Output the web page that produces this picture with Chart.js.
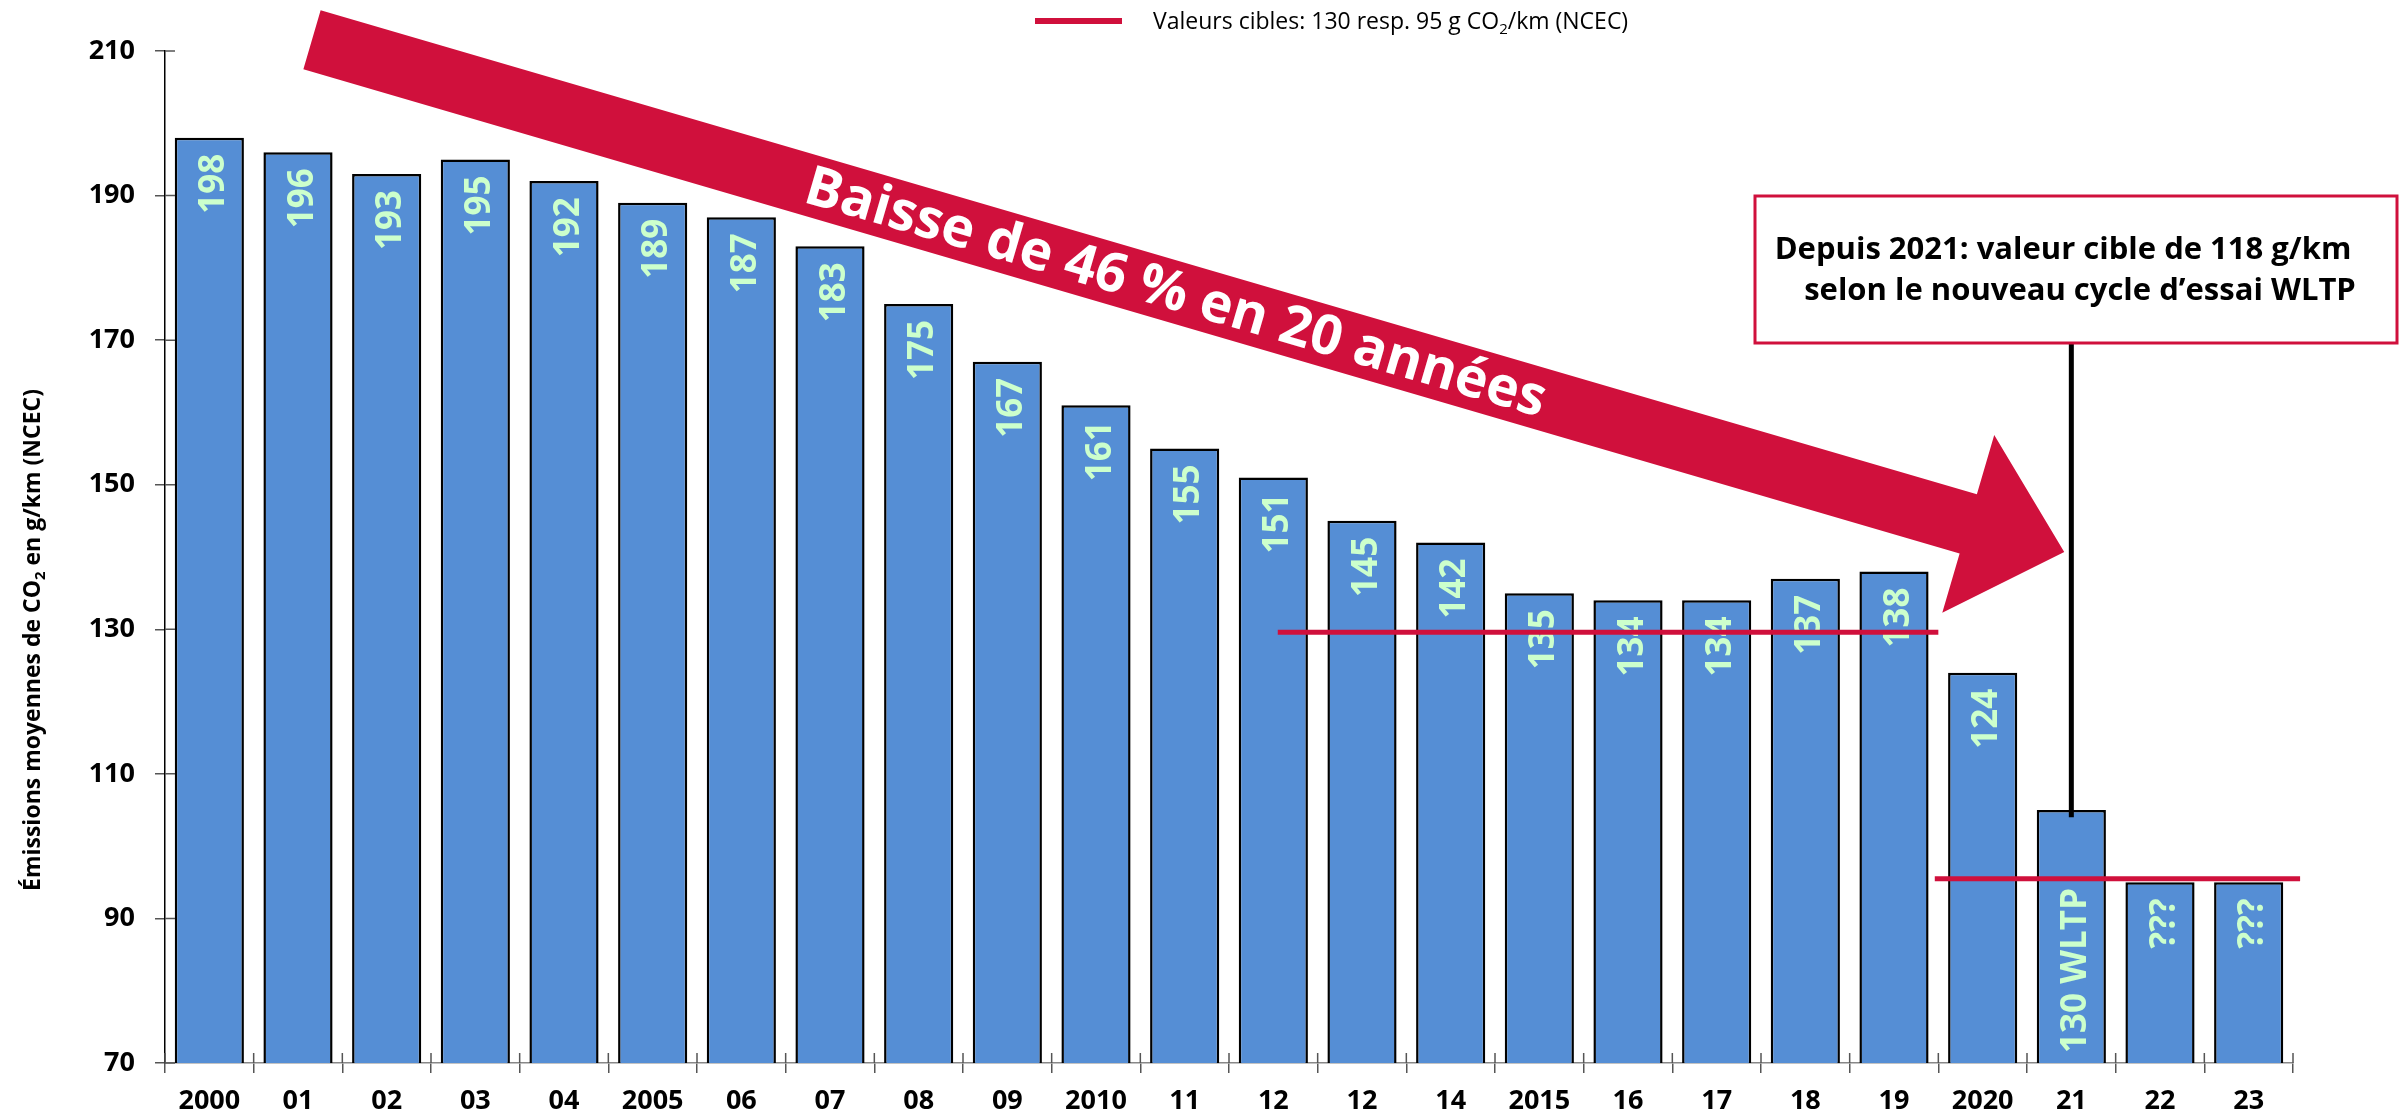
<!DOCTYPE html>
<html>
<head>
<meta charset="utf-8">
<script src="https://cdn.jsdelivr.net/npm/chart.js@4.4.1/dist/chart.umd.min.js"></script>
<style>
  html, body { margin: 0; padding: 0; background: #fff; }
  #wrap { width: 2402px; height: 1119px; }
</style>
</head>
<body>
<div id="wrap"><canvas id="co2Chart" width="2402" height="1119"></canvas></div>
<script>
// donnees
var annees = ['2000', '01', '02', '03', '04', '2005', '06', '07', '08', '09', '2010',
  '11', '12', '12', '14', '2015', '16', '17', '18', '19', '2020', '21', '22', '23'];
var emissions = [198, 196, 193, 195, 192, 189, 187, 183, 175, 167, 161, 155, 151,
  145, 142, 135, 134, 134, 137, 138, 124, 105, 95, 95];
var etiquettes = ['198', '196', '193', '195', '192', '189', '187', '183', '175', '167',
  '161', '155', '151', '145', '142', '135', '134', '134', '137', '138', '124',
  '130 WLTP', '???', '???'];
var cible130 = [{x: 12.05, y: 129.6}, {x: 19.5, y: 129.6}];
var cible95 = [{x: 19.46, y: 95.5}, {x: 23.58, y: 95.5}];
var yMin = 70, yMax = 210, yPas = 20;

var legendeTexte = [['Valeurs cibles: 130 resp. 95 g CO', false], ['2', true], ['/km (NCEC)', false]];
var titreY = [['Émissions moyennes de CO', false], ['2', true], [' en g/km (NCEC)', false]];
var flecheTexte = 'Baisse de 46 % en 20 années';
var encadre = ['Depuis 2021: valeur cible de 118 g/km', 'selon le nouveau cycle d\u2019essai WLTP'];

// flèche : début / fin en (indice, valeur)
var flecheDebut = [1.158, 211.55];
var flecheFin = [20.92, 140.7];
var repereIndex = 21, repereValeur = 104;

var rouge = '#D0103C';
var bleu = '#558ED5';
var vert = '#CCFFCC';

function texteIndice(ctx, parts, x, y, size, weight, align) {
  var wTot = 0, widths = [];
  parts.forEach(function (p) {
    ctx.font = weight + ' ' + (p[1] ? Math.round(size * 0.65) : size) + 'px "Open Sans"';
    var w = ctx.measureText(p[0]).width;
    widths.push(w);
    wTot += w;
  });
  var cx = align === 'center' ? x - wTot / 2 : x;
  ctx.textAlign = 'left';
  ctx.textBaseline = 'alphabetic';
  parts.forEach(function (p, i) {
    ctx.font = weight + ' ' + (p[1] ? Math.round(size * 0.65) : size) + 'px "Open Sans"';
    ctx.fillText(p[0], cx, p[1] ? y + size * 0.2 : y);
    cx += widths[i];
  });
}

var etiquettesPlugin = {
  id: 'etiquettes',
  afterDatasetDraw: function (chart, args) {
    if (args.index !== 0) return;
    var ctx = chart.ctx;
    var bas = chart.scales.y.getPixelForValue(yMin);
    ctx.save();
    ctx.fillStyle = vert;
    ctx.font = '700 35px "Open Sans"';
    ctx.textBaseline = 'alphabetic';
    args.meta.data.forEach(function (bar, i) {
      ctx.save();
      if (i === repereIndex) {
        ctx.translate(bar.x + 14.5, bas - 10);
        ctx.rotate(-Math.PI / 2);
        ctx.textAlign = 'left';
      } else {
        ctx.translate(bar.x + 14.5, bar.y + 16);
        ctx.rotate(-Math.PI / 2);
        ctx.textAlign = 'right';
      }
      ctx.fillText(etiquettes[i], 0, 0);
      ctx.restore();
    });
    ctx.restore();
  }
};

var decorPlugin = {
  id: 'decor',
  afterDraw: function (chart) {
    var ctx = chart.ctx;
    var xs = chart.scales.xl, ys = chart.scales.y, area = chart.chartArea;
    ctx.save();

    // petits traits vers l'intérieur
    ctx.strokeStyle = '#555';
    ctx.lineWidth = 1.5;
    ctx.beginPath();
    ys.ticks.forEach(function (t) {
      var py = ys.getPixelForValue(t.value);
      ctx.moveTo(area.left, py);
      ctx.lineTo(area.left + 10, py);
    });
    for (var i = 0; i <= annees.length; i++) {
      var px = xs.getPixelForValue(i - 0.5);
      ctx.moveTo(px, area.bottom);
      ctx.lineTo(px, area.bottom - 10);
    }
    ctx.stroke();

    // légende
    ctx.strokeStyle = rouge;
    ctx.lineWidth = 6;
    ctx.beginPath();
    ctx.moveTo(1035, 21);
    ctx.lineTo(1122, 21);
    ctx.stroke();
    ctx.fillStyle = '#000';
    texteIndice(ctx, legendeTexte, 1153, 29, 23, '400', 'left');

    // titre axe y
    ctx.save();
    ctx.translate(32, 640);
    ctx.rotate(-Math.PI / 2);
    texteIndice(ctx, titreY, 0, 8, 23, '700', 'center');
    ctx.restore();

    // flèche
    var x0 = xs.getPixelForValue(flecheDebut[0]), y0 = ys.getPixelForValue(flecheDebut[1]);
    var x1 = xs.getPixelForValue(flecheFin[0]), y1 = ys.getPixelForValue(flecheFin[1]);
    var dx = x1 - x0, dy = y1 - y0, len = Math.sqrt(dx * dx + dy * dy);
    var ux = dx / len, uy = dy / len, nx = -uy, ny = ux;
    var sw = 30.75, hl = 100, hw = 92.6;
    var bx = x1 - ux * hl, by = y1 - uy * hl;
    ctx.fillStyle = rouge;
    ctx.beginPath();
    ctx.moveTo(x0 + nx * sw, y0 + ny * sw);
    ctx.lineTo(bx + nx * sw, by + ny * sw);
    ctx.lineTo(bx + nx * hw, by + ny * hw);
    ctx.lineTo(x1, y1);
    ctx.lineTo(bx - nx * hw, by - ny * hw);
    ctx.lineTo(bx - nx * sw, by - ny * sw);
    ctx.lineTo(x0 - nx * sw, y0 - ny * sw);
    ctx.closePath();
    ctx.fill();

    ctx.save();
    ctx.translate(x0 + dx * 0.493, y0 + dy * 0.493);
    ctx.rotate(Math.atan2(dy, dx));
    ctx.fillStyle = '#fff';
    ctx.font = '700 55px "Open Sans"';
    ctx.textAlign = 'center';
    ctx.textBaseline = 'middle';
    ctx.fillText(flecheTexte, 0, 2);
    ctx.restore();

    // encadré + trait vers 2021
    var boxL = 1755, boxR = 2397, boxT = 196, boxB = 343;
    var lx = xs.getPixelForValue(repereIndex);
    ctx.strokeStyle = '#000';
    ctx.lineWidth = 5;
    ctx.beginPath();
    ctx.moveTo(lx, boxB);
    ctx.lineTo(lx, ys.getPixelForValue(repereValeur));
    ctx.stroke();

    ctx.fillStyle = '#fff';
    ctx.fillRect(boxL, boxT, boxR - boxL, boxB - boxT);
    ctx.strokeStyle = rouge;
    ctx.lineWidth = 3;
    ctx.strokeRect(boxL, boxT, boxR - boxL, boxB - boxT);
    ctx.fillStyle = '#000';
    ctx.font = '700 31px "Open Sans"';
    ctx.textAlign = 'center';
    ctx.textBaseline = 'alphabetic';
    ctx.fillText(encadre[0], 2063, 259);
    ctx.fillText(encadre[1], 2080, 300);

    ctx.restore();
  }
};

function dessiner() {
  var ctx = document.getElementById('co2Chart');
  new Chart(ctx, {
    type: 'bar',
    data: {
      labels: annees,
      datasets: [{
        label: 'Émissions',
        data: emissions,
        backgroundColor: bleu,
        borderColor: '#000',
        borderWidth: 2.5,
        barPercentage: 0.78,
        categoryPercentage: 1,
        grouped: false,
        order: 1
      }, {
        type: 'line',
        label: 'Valeurs cibles 130',
        data: cible130,
        xAxisID: 'xl',
        borderColor: rouge,
        borderWidth: 5,
        pointRadius: 0,
        clip: false,
        order: 0
      }, {
        type: 'line',
        label: 'Valeurs cibles 95',
        data: cible95,
        xAxisID: 'xl',
        borderColor: rouge,
        borderWidth: 5,
        pointRadius: 0,
        clip: false,
        order: 0
      }]
    },
    options: {
      responsive: false,
      animation: false,
      devicePixelRatio: 1,
      layout: {
        padding: { left: 40, right: 109, top: 51, bottom: 0 }
      },
      scales: {
        x: {
          type: 'category',
          offset: true,
          afterFit: function (s) { s.height = 56; },
          grid: { drawOnChartArea: false, tickLength: 10, color: '#555', lineWidth: 1.5, offset: true },
          border: { color: '#888', width: 1.5 },
          ticks: {
            color: '#000',
            padding: 12,
            maxRotation: 0,
            autoSkip: false,
            font: { family: 'Open Sans', weight: 'bold', size: 27 }
          }
        },
        xl: {
          type: 'linear',
          display: false,
          offset: false,
          grid: { offset: false },
          min: -0.5,
          max: annees.length - 0.5
        },
        y: {
          min: yMin,
          max: yMax,
          afterFit: function (s) { s.width = 125; },
          grid: { drawOnChartArea: false, tickLength: 10, color: '#555', lineWidth: 1.5 },
          border: { color: '#000', width: 1.5 },
          ticks: {
            stepSize: yPas,
            color: '#000',
            padding: 20,
            font: { family: 'Open Sans', weight: 'bold', size: 27 }
          }
        }
      },
      plugins: {
        legend: { display: false },
        tooltip: { enabled: false }
      }
    },
    plugins: [etiquettesPlugin, decorPlugin]
  });
}

Promise.all([
  document.fonts.load('700 27px "Open Sans"'),
  document.fonts.load('700 35px "Open Sans"'),
  document.fonts.load('400 23px "Open Sans"')
]).then(dessiner, dessiner);
</script>
</body>
</html>
